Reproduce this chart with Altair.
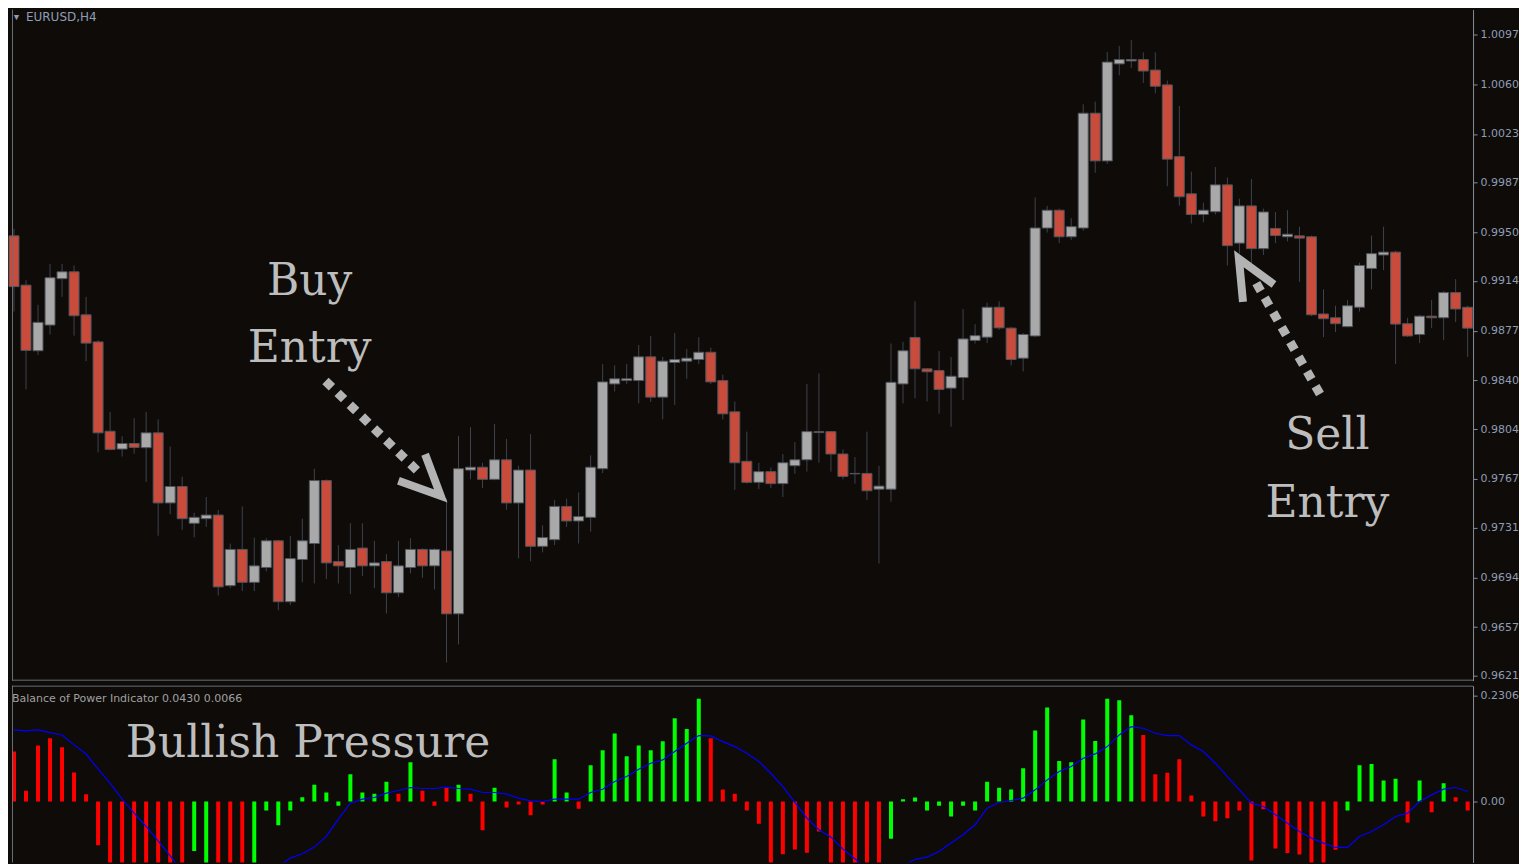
import altair as alt
import pandas as pd

# ---------------- candle data (EURUSD, H4) ----------------
opens = [0.99474,0.99108,0.98621,0.98812,0.99156,0.99207,0.98888,0.98687,0.98024,0.97892,
         0.97933,0.97902,0.98012,0.97492,0.97614,0.97341,0.97375,0.97402,0.96878,0.97147,
         0.96903,0.97013,0.97211,0.96759,0.97072,0.97191,0.97658,0.97057,0.97013,0.97157,
         0.97025,0.97057,0.96825,0.97013,0.97147,0.97025,0.97135,0.96669,0.97736,0.97757,
         0.97667,0.97812,0.97492,0.97736,0.97170,0.97219,0.97466,0.97358,0.97385,0.97746,
         0.98375,0.98400,0.98400,0.98576,0.98277,0.98534,0.98544,0.98556,0.98610,0.98400,
         0.98168,0.97801,0.97645,0.97724,0.97635,0.97768,0.97812,0.98021,0.98021,0.97855,
         0.97708,0.97711,0.97594,0.97594,0.98375,0.98720,0.98487,0.98475,0.98344,0.98422,
         0.98698,0.98722,0.98944,0.98789,0.98566,0.98731,0.99532,0.99664,0.99467,0.99532,
         1.00384,1.00030,1.00750,1.00772,1.00782,1.00704,1.00594,1.00062,0.99786,0.99632,
         0.99653,0.99852,0.99420,0.99696,0.99379,0.99529,0.99467,0.99474,0.99467,0.98894,
         0.98866,0.98800,0.98944,0.99232,0.99332,0.99353,0.98822,0.98742,0.98878,0.98866,
         0.99053,0.98944]
highs = [0.99527,0.99144,0.98963,0.99266,0.99266,0.99254,0.99022,0.98700,0.98168,0.97987,
         0.98121,0.98168,0.98112,0.97911,0.97687,0.97419,0.97536,0.97441,0.97191,0.97466,
         0.97235,0.97230,0.97219,0.97248,0.97375,0.97746,0.97667,0.97179,0.97341,0.97341,
         0.97211,0.97112,0.97211,0.97230,0.97155,0.97155,0.97523,0.97990,0.98055,0.97790,
         0.98077,0.97967,0.97768,0.98002,0.97325,0.97514,0.97523,0.97570,0.97845,0.98522,
         0.98512,0.98522,0.98664,0.98731,0.98576,0.98753,0.98634,0.98722,0.98644,0.98444,
         0.98244,0.98021,0.97790,0.97755,0.97855,0.97943,0.98375,0.98453,0.98026,0.97889,
         0.97833,0.98021,0.97768,0.98675,0.98687,0.98988,0.98494,0.98619,0.98575,0.98931,
         0.98818,0.98978,0.98988,0.98800,0.98753,0.99759,0.99696,0.99676,0.99606,1.00450,
         1.00470,1.00838,1.00884,1.00926,1.00836,1.00836,1.00626,1.00438,0.99950,0.99720,
         0.99984,0.99906,0.99750,0.99896,0.99676,0.99651,0.99664,0.99542,0.99476,0.99077,
         0.98955,0.98997,0.99275,0.99476,0.99542,0.99364,0.98866,0.98888,0.98997,0.99064,
         0.99153,0.98956]
lows = [0.98912,0.98334,0.98590,0.98742,0.99022,0.98733,0.98544,0.97867,0.97882,0.97836,
        0.97857,0.97648,0.97248,0.97408,0.97292,0.97237,0.97314,0.96805,0.96859,0.96838,
        0.96838,0.96984,0.96695,0.96735,0.96903,0.96895,0.96927,0.96895,0.96816,0.96949,
        0.96859,0.96672,0.96794,0.96969,0.96937,0.96850,0.96307,0.96442,0.97667,0.97601,
        0.97660,0.97441,0.97081,0.97059,0.97125,0.97179,0.97314,0.97191,0.97279,0.97714,
        0.98319,0.98373,0.98230,0.98241,0.98112,0.98218,0.98413,0.98522,0.98373,0.98112,
        0.97590,0.97635,0.97594,0.97601,0.97536,0.97708,0.97724,0.97790,0.97724,0.97667,
        0.97635,0.97514,0.97042,0.97501,0.98230,0.98268,0.98244,0.98154,0.98058,0.98255,
        0.98675,0.98678,0.98776,0.98512,0.98468,0.98722,0.99498,0.99420,0.99444,0.99511,
        0.99942,1.00008,1.00665,1.00719,1.00609,1.00531,0.99842,0.99698,0.99566,0.99574,
        0.99632,0.99254,0.99342,0.99273,0.99332,0.99420,0.99432,0.99132,0.98878,0.98722,
        0.98760,0.98795,0.98912,0.99077,0.99220,0.98522,0.98724,0.98678,0.98791,0.98700,
        0.98834,0.98576]
closes = [0.99097,0.98624,0.98832,0.99163,0.99207,0.98881,0.98678,0.98012,0.97889,0.97933,
          0.97904,0.98012,0.97492,0.97614,0.97375,0.97385,0.97402,0.96869,0.97147,0.96903,
          0.97025,0.97211,0.96759,0.97079,0.97211,0.97658,0.97047,0.97025,0.97147,0.97025,
          0.97047,0.96825,0.97025,0.97147,0.97025,0.97147,0.96669,0.97746,0.97757,0.97667,
          0.97812,0.97492,0.97736,0.97170,0.97235,0.97466,0.97358,0.97391,0.97757,0.98390,
          0.98413,0.98413,0.98576,0.98277,0.98544,0.98556,0.98566,0.98610,0.98390,0.98153,
          0.97790,0.97645,0.97724,0.97635,0.97790,0.97812,0.98021,0.98014,0.97855,0.97689,
          0.97711,0.97582,0.97617,0.98387,0.98621,0.98487,0.98465,0.98334,0.98432,0.98709,
          0.98733,0.98944,0.98791,0.98556,0.98742,0.99532,0.99664,0.99467,0.99542,1.00384,
          1.00030,1.00763,1.00782,1.00782,1.00697,1.00584,1.00043,0.99764,0.99632,0.99664,
          0.99852,0.99401,0.99696,0.99379,0.99651,0.99476,0.99486,0.99457,0.98888,0.98859,
          0.98822,0.98955,0.99254,0.99342,0.99353,0.98819,0.98731,0.98878,0.98866,0.99053,
          0.98931,0.98789]

# ---------------- Balance of Power indicator ----------------
bop = [0.1088,0.0232,0.1218,0.1378,0.1182,0.0631,0.0160,-0.0950,-0.20,-0.20,
       -0.20,-0.20,-0.20,-0.20,-0.20,-0.1080,-0.1440,-0.20,-0.20,-0.20,
       -0.1385,-0.0196,-0.0515,-0.0196,0.0094,0.0363,0.0196,-0.0094,0.0595,0.0196,
       0.0167,0.0428,0.0167,0.0856,0.0232,-0.0094,0.0297,0.0363,0.0167,-0.0624,
       0.0297,-0.0131,-0.0065,-0.0297,-0.0065,0.0921,0.0196,-0.0160,0.0790,0.1117,
       0.1479,0.0986,0.1218,0.1117,0.1312,0.1813,0.1581,0.2240,0.1378,0.0261,
       0.0167,-0.0196,-0.0486,-0.1443,-0.1146,-0.1044,-0.1117,-0.0653,-0.20,-0.20,
       -0.20,-0.20,-0.20,-0.0812,0.0051,0.0087,-0.0196,-0.0094,-0.0326,-0.0094,
       -0.0196,0.0428,0.0297,0.0261,0.0725,0.1544,0.2045,0.0885,0.0856,0.1784,
       0.1320,0.2240,0.2204,0.1878,0.1450,0.0595,0.0624,0.0921,0.0131,-0.0326,
       -0.0428,-0.0363,-0.0196,-0.1283,-0.0167,-0.1022,-0.1124,-0.1153,-0.20,-0.1450,
       -0.1051,-0.0196,0.0790,0.0819,0.0457,0.0493,-0.0457,0.0457,-0.0232,0.0399,
       0.0094,-0.0196]
bop_sign = ("rrrrrrrrrrrrrrrggrrrggggggggggggrgrrrgrrgrrrrggrgggggggggg"
            "rrrrrrrrrrrrrrrggggggggggggggggggggg"
            "rrrrrrrrrrrrrrrrrgggggrgrgrr")
ma = [0.1559,0.1537,0.1559,0.1501,0.1450,0.1233,0.1037,0.0703,0.0399,0.0051,
      -0.0254,-0.0544,-0.0856,-0.1182,-0.1515,-0.175,-0.19,-0.20,-0.20,-0.19,
      -0.172,-0.153,-0.1414,-0.1233,-0.1138,-0.0993,-0.0761,-0.0384,-0.0036,0.0051,
      0.0087,0.0181,0.0239,0.0305,0.0283,0.0283,0.0312,0.0283,0.0268,0.0196,
      0.0196,0.0160,0.0073,0.0015,0.0000,0.0051,0.0051,0.0051,0.0196,0.0268,
      0.0435,0.0544,0.0703,0.0834,0.0906,0.1088,0.1269,0.1436,0.1428,0.1305,
      0.1196,0.1051,0.0870,0.0616,0.0326,-0.0020,-0.0362,-0.0616,-0.0776,-0.1037,
      -0.1247,-0.1486,-0.158,-0.150,-0.140,-0.126,-0.1211,-0.1088,-0.0906,-0.0725,
      -0.0508,-0.0145,-0.0022,0.0022,0.0073,0.0254,0.0471,0.0653,0.0761,0.0943,
      0.1037,0.1196,0.1450,0.1631,0.1595,0.1486,0.1436,0.1436,0.1233,0.1088,
      0.0834,0.0544,0.0254,-0.0036,-0.0109,-0.0290,-0.0471,-0.0653,-0.0798,-0.0906,
      -0.1001,-0.1001,-0.0761,-0.0653,-0.0508,-0.0326,-0.0254,0.0000,0.0145,0.0268,
      0.0305,0.0218]

price_ticks = [0.9621, 0.9657, 0.9694, 0.9731, 0.9767, 0.9804, 0.9840, 0.9877,
               0.9914, 0.9950, 0.9987, 1.0023, 1.0060, 1.0097]
bop_ticks = [0.0, 0.2306]

# annotations (in data units: bar index, price)
ann_text = ["Buy", "Entry", "Sell", "Entry"]
ann_i = [24.61, 24.61, 109.32, 109.32]
ann_p = [0.99130, 0.98633, 0.97989, 0.97485]

dot_grp = ["buy", "buy", "sell", "sell"]
dot_i = [25.93, 33.75, 108.90, 103.41]
dot_p = [0.98397, 0.97715, 0.98271, 0.99123]

head_grp = ["buy", "buy", "buy", "sell", "sell", "sell"]
head_ord = [0, 1, 2, 0, 1, 2]
head_i = [34.22, 35.52, 32.00, 104.88, 101.96, 102.30]
head_p = [0.97853, 0.97544, 0.97656, 0.99113, 0.99304, 0.98984]

N = len(opens)
df = pd.DataFrame({"i": list(range(N)), "open": opens, "high": highs,
                   "low": lows, "close": closes})
df["dir"] = ["up" if c >= o else "down" for o, c in zip(opens, closes)]

ind = pd.DataFrame({"i": list(range(N)), "bop": bop, "ma": ma,
                    "sig": list(bop_sign[:N])})
ann = pd.DataFrame({"i": ann_i, "p": ann_p, "t": ann_text})
dots = pd.DataFrame({"i": dot_i, "p": dot_p, "g": dot_grp})
heads = pd.DataFrame({"i": head_i, "p": head_p, "g": head_grp, "o": head_ord})

W = 1463
H1 = 672
H2 = 177
BG = "#0E0B09"
AXC = "#8A8F99"
LABC = "#8E9DB4"

xs = alt.Scale(domain=[-0.166, 121.45], nice=False, zero=False, padding=0)
ys = alt.Scale(domain=[0.96173, 1.01153], nice=False, zero=False, padding=0)
ysi = alt.Scale(domain=[-0.1327, 0.2523], nice=False, zero=False, padding=0)
X = alt.X("i:Q", scale=xs, axis=None)

price_axis = alt.Axis(orient="right", values=price_ticks, format=".4f", title=None,
                      grid=False, labelColor=LABC, labelFont="DejaVu Sans",
                      labelFontSize=11, tickSize=4, tickColor=AXC, domainColor=AXC,
                      labelPadding=3, labelFlush=False, labelOverlap=False)

wicks = alt.Chart(df).mark_rule(color="#3E434D", strokeWidth=1).encode(
    x=X, y=alt.Y("low:Q", scale=ys, axis=price_axis), y2="high:Q")
bodies = alt.Chart(df).mark_bar(width=10, stroke="#50545C", strokeWidth=1).encode(
    x=X, y=alt.Y("open:Q", scale=ys), y2="close:Q",
    color=alt.Color("dir:N", scale=alt.Scale(domain=["up", "down"],
                                            range=["#A9A9A9", "#C84B3B"]), legend=None))
dotted = alt.Chart(dots).mark_line(strokeDash=[9, 8], strokeWidth=9, color="#B3B3B3",
                                   strokeCap="butt").encode(
    x=X, y=alt.Y("p:Q", scale=ys), detail="g:N")
head = alt.Chart(heads).mark_line(strokeWidth=8, color="#B3B3B3", strokeJoin="miter",
                                  strokeCap="butt").encode(
    x=X, y=alt.Y("p:Q", scale=ys), detail="g:N", order="o:Q")
labels = alt.Chart(ann).mark_text(font="DejaVu Serif", fontSize=44, color="#BDBDBD",
                                  align="center", baseline="middle").encode(
    x=X, y=alt.Y("p:Q", scale=ys), text="t:N")
ttl_tri = alt.Chart(pd.DataFrame({"t": ["▼"]})).mark_text(
    fontSize=9, color=LABC, align="left", baseline="middle").encode(
    x=alt.value(0), y=alt.value(7), text="t:N")
ttl = alt.Chart(pd.DataFrame({"t": ["EURUSD,H4"]})).mark_text(
    font="DejaVu Sans", fontSize=12, color=LABC, align="left", baseline="middle").encode(
    x=alt.value(14), y=alt.value(7), text="t:N")
lb = alt.Chart(pd.DataFrame({"a": [0]})).mark_rule(color="#6A6E76").encode(
    x=alt.value(0.5), y=alt.value(0), y2=alt.value(H1))
bb = alt.Chart(pd.DataFrame({"a": [0]})).mark_rule(color="#6A6E76").encode(
    x=alt.value(0), x2=alt.value(W), y=alt.value(H1 - 0.5))

top = alt.layer(wicks, bodies, dotted, head, labels, ttl_tri, ttl, lb, bb).properties(
    width=W, height=H1)

ind_axis = alt.Axis(orient="right", values=bop_ticks, title=None, grid=False,
                    labelExpr="datum.value == 0 ? '0.00' : format(datum.value, '.4f')",
                    labelColor=LABC, labelFont="DejaVu Sans", labelFontSize=11,
                    tickSize=4, tickColor=AXC, domainColor=AXC, labelPadding=3,
                    labelFlush=False, labelOverlap=False)
bars = alt.Chart(ind).mark_bar(width=4, clip=True).encode(
    x=X, y=alt.Y("bop:Q", scale=ysi, axis=ind_axis), y2=alt.datum(0),
    color=alt.Color("sig:N", scale=alt.Scale(domain=["g", "r"],
                                            range=["#00FF00", "#FF0000"]), legend=None))
line = alt.Chart(ind).mark_line(color="#0000FF", strokeWidth=1.2, clip=True).encode(
    x=X, y=alt.Y("ma:Q", scale=ysi))
bp = alt.Chart(pd.DataFrame({"i": [9.3], "v": [0.1262], "t": ["Bullish Pressure"]})).mark_text(
    font="DejaVu Serif", fontSize=44, color="#BDBDBD", align="left", baseline="middle").encode(
    x=X, y=alt.Y("v:Q", scale=ysi), text="t:N")
ind_lbl = alt.Chart(pd.DataFrame({"t": ["Balance of Power Indicator 0.0430 0.0066"]})).mark_text(
    font="DejaVu Sans", fontSize=11, color="#A0A0A0", align="left", baseline="middle").encode(
    x=alt.value(0), y=alt.value(13), text="t:N")
lb2 = alt.Chart(pd.DataFrame({"a": [0]})).mark_rule(color="#6A6E76").encode(
    x=alt.value(0.5), y=alt.value(0), y2=alt.value(H2))
tb2 = alt.Chart(pd.DataFrame({"a": [0]})).mark_rule(color="#6A6E76").encode(
    x=alt.value(0), x2=alt.value(W), y=alt.value(0.5))

bottom = alt.layer(bars, line, bp, ind_lbl, lb2, tb2).properties(width=W, height=H2)

chart = alt.vconcat(top, bottom, spacing=3).resolve_scale(color="independent").properties(
    padding=0, background=BG).configure_view(stroke=None)

chart.save("out.html", embed_options={"renderer": "svg", "actions": False})
